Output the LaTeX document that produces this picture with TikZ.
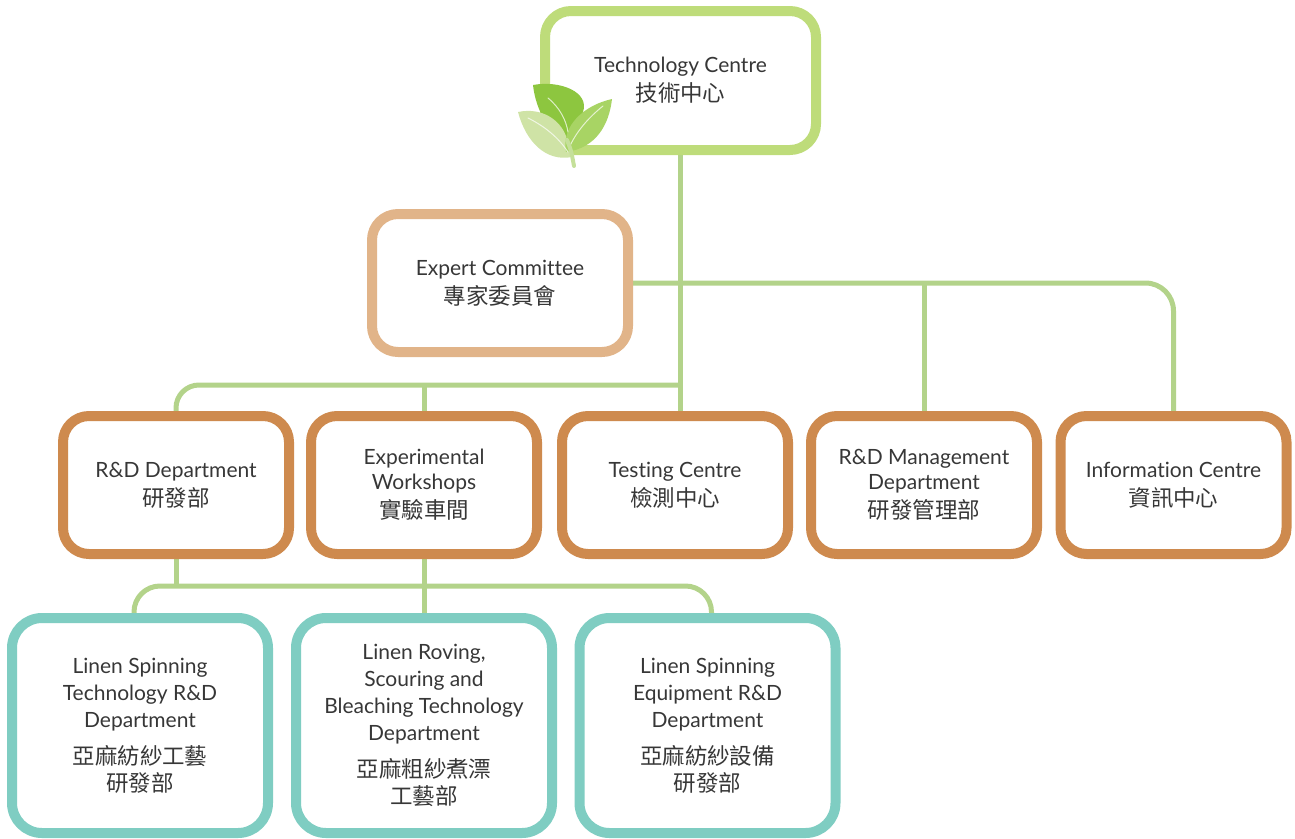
\documentclass[tikz,border=0pt]{standalone}
\usepackage{fontspec}
\setmainfont[Ligatures=CommonOff]{Lato}
\newfontfamily\cjk[Scale=1.07]{Noto Sans CJK TC}
\usetikzlibrary{backgrounds}
\definecolor{lgreen}{RGB}{179,211,138}
\definecolor{topgreen}{RGB}{190,220,122}
\definecolor{tanbox}{RGB}{225,180,137}
\definecolor{orbox}{RGB}{206,138,78}
\definecolor{tealbox}{RGB}{127,205,194}
\definecolor{txtgrey}{RGB}{55,55,55}
\definecolor{leafa}{RGB}{141,198,63}
\definecolor{leafb}{RGB}{207,227,166}
\definecolor{leafc}{RGB}{168,212,100}
\definecolor{stemc}{RGB}{197,224,154}

\begin{document}
\begin{tikzpicture}[x=1pt,y=-1pt,line cap=round,line join=round,
  box/.style={draw,line width=10pt,fill=white,rounded corners=26pt,align=center,inner sep=0pt,outer sep=0pt,
    minimum width=226pt,minimum height=138pt,text=txtgrey,font=\fontsize{21}{25}\selectfont},
  leafbox/.style={box,draw=tealbox,rounded corners=30pt,minimum width=256pt,minimum height=215pt,font=\fontsize{21}{27}\selectfont},
  link/.style={draw=lgreen,line width=5pt,line cap=butt}]
\useasboundingbox (0,0) rectangle (1295,838);
\node[box,draw=topgreen,minimum width=271pt,minimum height=139pt] (tech) at (680.5,80.5) {Technology Centre\\[4pt]{\cjk 技術中心}};
\node[box,draw=tanbox,minimum width=256pt] (expert) at (500,283) {Expert Committee\\[4pt]{\cjk 專家委員會}};
\node[box,draw=orbox] (rd) at (176,485) {R\&D Department\\[4pt]{\cjk 研發部}};
\node[box,draw=orbox] (exp) at (424,485) {Experimental\\Workshops\\[4pt]{\cjk 實驗車間}};
\node[box,draw=orbox] (test) at (675,485) {Testing Centre\\[4pt]{\cjk 檢測中心}};
\node[box,draw=orbox] (mgmt) at (924,485) {R\&D Management\\Department\\[4pt]{\cjk 研發管理部}};
\node[box,draw=orbox] (info) at (1173.5,485) {Information Centre\\[4pt]{\cjk 資訊中心}};
\node[leafbox] (ls) at (140,725.5) {Linen Spinning\\Technology R\&D\\Department\\[10pt]{\cjk 亞麻紡紗工藝}\\{\cjk 研發部}};
\node[leafbox] (lr) at (424,725.5) {Linen Roving,\\Scouring and\\Bleaching Technology\\Department\\[10pt]{\cjk 亞麻粗紗煮漂}\\{\cjk 工藝部}};
\node[leafbox] (le) at (707.5,725.5) {Linen Spinning\\Equipment R\&D\\Department\\[10pt]{\cjk 亞麻紡紗設備}\\{\cjk 研發部}};
\coordinate (hub) at (tech.south |- 0,385);
\coordinate (bus) at (0,586);
\begin{scope}[on background layer]
\draw[link] (tech.south) -- (tech.south |- test.north);
\draw[link,rounded corners=28pt] (expert.east) -- (expert.east -| info.north) -- (info.north);
\draw[link] (expert.east -| mgmt.north) -- (mgmt.north);
\draw[link,rounded corners=23pt] (hub) -- (hub -| rd.north) -- (rd.north);
\draw[link] (hub -| exp.north) -- (exp.north);
\draw[link] (rd.south) -- (rd.south |- bus);
\draw[link] (exp.south) -- (lr.north);
\draw[link,rounded corners=26pt] ([xshift=-6pt]ls.north) -- ([xshift=-6pt]ls.north |- bus) -- ([xshift=4pt]le.north |- bus) -- ([xshift=4pt]le.north);
\end{scope}
\fill[leafa] (533,85) .. controls (560,80) and (590,92) .. (583,112) .. controls (578,125) and (570,135) .. (566,146) .. controls (550,132) and (536,112) .. (533,85) -- cycle;
\fill[leafb] (518,112) .. controls (542,107) and (560,120) .. (566,136) .. controls (570,145) .. (572,157) .. controls (546,162) and (526,142) .. (518,112) -- cycle;
\fill[leafc] (566,152) .. controls (561,125) and (585,105) .. (612,99) .. controls (609,125) and (596,148) .. (566,152) -- cycle;
\draw[white,line width=1pt,opacity=0.7] (548,98) .. controls (560,108) and (566,120) .. (568,132);
\draw[white,line width=1pt,opacity=0.7] (528,118) .. controls (548,128) and (560,140) .. (568,152);
\draw[white,line width=1pt,opacity=0.7] (603,106) .. controls (588,118) and (576,132) .. (569,148);
\draw[stemc,line width=4pt] (567,140) .. controls (571,150) .. (574,166);
\end{tikzpicture}
\end{document}
